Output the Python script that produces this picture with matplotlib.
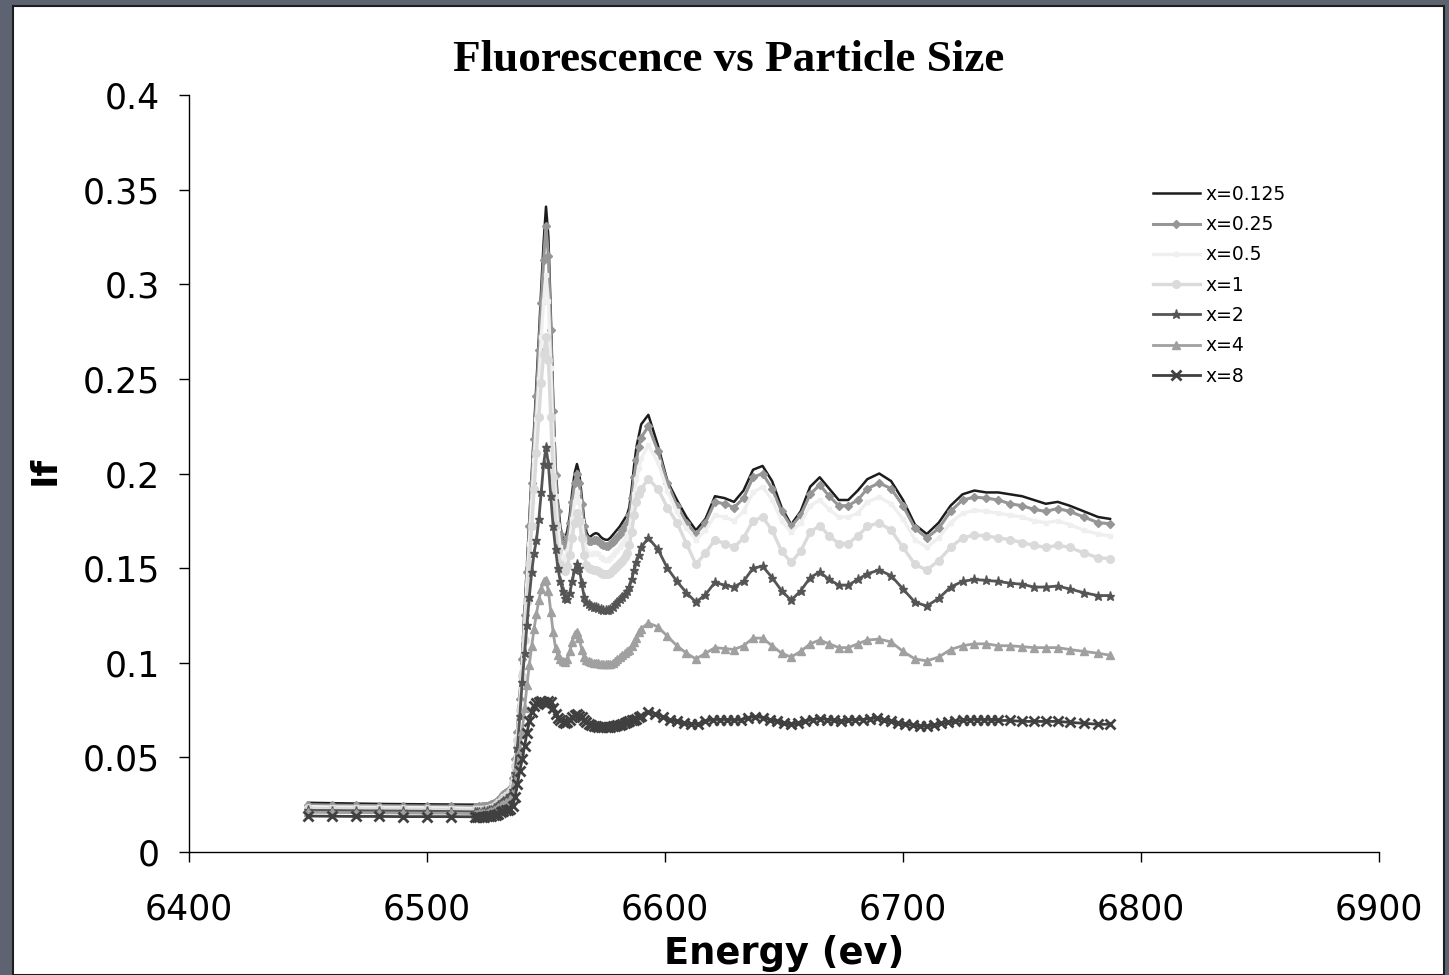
import matplotlib
matplotlib.use('Agg')
import matplotlib.pyplot as plt
from matplotlib.patches import Rectangle

# energy grids (eV): sparse pre-edge, dense edge scan, k-spaced post-edge
e_pre = [6450, 6460, 6470, 6480, 6490, 6500, 6510]
e_edge = [6520, 6521, 6522, 6523, 6524, 6525, 6526, 6527, 6528, 6529,
          6530, 6531, 6532, 6533, 6534, 6535, 6536, 6537, 6538, 6539,
          6540, 6541, 6542, 6543, 6544, 6545, 6546, 6547, 6548, 6549,
          6550, 6551, 6552, 6553, 6554, 6555, 6556, 6557, 6558, 6559,
          6560, 6561, 6562, 6563, 6564, 6565, 6566, 6567, 6568, 6569,
          6570, 6571, 6572, 6573, 6574, 6575, 6576, 6577, 6578, 6579,
          6580, 6581, 6582, 6583, 6584, 6585, 6586, 6587, 6588, 6589]
e_post = [6590, 6593, 6597, 6601, 6605, 6609, 6613, 6617, 6621, 6625,
          6629, 6633, 6637, 6641, 6645, 6649, 6653, 6657, 6661, 6665,
          6669, 6673, 6677, 6681, 6685, 6690, 6695, 6700, 6705, 6710,
          6715, 6720, 6725, 6730, 6735, 6740, 6745, 6750, 6755, 6760,
          6765, 6770, 6776, 6782, 6787]
# the x=8 sample was scanned finer up to 6740 eV
e_post_x8 = [6590, 6593, 6596, 6599, 6602, 6605, 6608, 6611, 6614, 6617,
             6620, 6623, 6626, 6629, 6632, 6635, 6638, 6641, 6644, 6647,
             6650, 6653, 6656, 6659, 6662, 6665, 6668, 6671, 6674, 6677,
             6680, 6683, 6686, 6689, 6692, 6695, 6698, 6701, 6704, 6707,
             6710, 6713, 6716, 6719, 6722, 6725, 6728, 6731, 6734, 6737,
             6740, 6745, 6750, 6755, 6760, 6765, 6770, 6776, 6782, 6787]

energy = e_pre + e_edge + e_post
energy_x8 = e_pre + e_edge + e_post_x8

if_0125 = [0.0260, 0.0258, 0.0256, 0.0254, 0.0253, 0.0252, 0.0251,
           0.0250, 0.0250, 0.0251, 0.0252, 0.0253, 0.0255, 0.0258, 0.0262, 0.0268, 0.0276,
           0.0287, 0.0300, 0.0315, 0.0325, 0.0330, 0.0345, 0.0400, 0.0500, 0.0650, 0.0830,
           0.1050, 0.1280, 0.1520, 0.1760, 0.2000, 0.2240, 0.2480, 0.2720, 0.2980, 0.3220,
           0.3410, 0.3250, 0.2850, 0.2400, 0.2050, 0.1850, 0.1720, 0.1660, 0.1650, 0.1700,
           0.1780, 0.1900, 0.2000, 0.2050, 0.2000, 0.1880, 0.1760, 0.1690, 0.1665, 0.1670,
           0.1680, 0.1685, 0.1680, 0.1665, 0.1655, 0.1650, 0.1650, 0.1660, 0.1675, 0.1690,
           0.1705, 0.1720, 0.1740, 0.1760, 0.1780, 0.1820, 0.1920, 0.2040, 0.2140, 0.2200,
           0.226, 0.231, 0.215, 0.196, 0.186, 0.177, 0.170, 0.176, 0.188, 0.187,
           0.185, 0.191, 0.202, 0.204, 0.196, 0.182, 0.173, 0.180, 0.193, 0.198,
           0.192, 0.186, 0.186, 0.191, 0.197, 0.200, 0.196, 0.186, 0.173, 0.168,
           0.174, 0.183, 0.189, 0.191, 0.190, 0.190, 0.189, 0.188, 0.186, 0.184,
           0.185, 0.183, 0.180, 0.177, 0.176]

if_025 = [0.0250, 0.0248, 0.0246, 0.0245, 0.0244, 0.0243, 0.0242,
          0.0240, 0.0240, 0.0241, 0.0242, 0.0243, 0.0245, 0.0248, 0.0252, 0.0258, 0.0266,
          0.0277, 0.0290, 0.0305, 0.0315, 0.0320, 0.0335, 0.0390, 0.0490, 0.0635, 0.0810,
          0.1020, 0.1250, 0.1480, 0.1720, 0.1950, 0.2180, 0.2410, 0.2650, 0.2900, 0.3130,
          0.3310, 0.3150, 0.2760, 0.2330, 0.1990, 0.1800, 0.1680, 0.1625, 0.1615, 0.1660,
          0.1740, 0.1850, 0.1950, 0.2000, 0.1950, 0.1840, 0.1720, 0.1660, 0.1645, 0.1645,
          0.1650, 0.1650, 0.1645, 0.1630, 0.1620, 0.1615, 0.1615, 0.1625, 0.1640, 0.1655,
          0.1665, 0.1680, 0.1700, 0.1720, 0.1740, 0.1780, 0.1870, 0.1980, 0.2070, 0.2140,
          0.219, 0.225, 0.212, 0.195, 0.183, 0.174, 0.168, 0.174, 0.185, 0.184,
          0.182, 0.187, 0.198, 0.200, 0.192, 0.180, 0.172, 0.178, 0.189, 0.194,
          0.188, 0.183, 0.183, 0.186, 0.192, 0.195, 0.192, 0.183, 0.171, 0.166,
          0.171, 0.180, 0.186, 0.1875, 0.187, 0.186, 0.184, 0.183, 0.181, 0.180,
          0.1815, 0.180, 0.177, 0.174, 0.1735]

if_05 = [0.0240, 0.0238, 0.0237, 0.0236, 0.0235, 0.0234, 0.0233,
         0.0230, 0.0230, 0.0231, 0.0232, 0.0233, 0.0235, 0.0238, 0.0242, 0.0248, 0.0256,
         0.0267, 0.0280, 0.0295, 0.0305, 0.0310, 0.0325, 0.0380, 0.0475, 0.0615, 0.0785,
         0.0980, 0.1190, 0.1410, 0.1630, 0.1850, 0.2070, 0.2290, 0.2500, 0.2720, 0.2910,
         0.3050, 0.2910, 0.2560, 0.2180, 0.1880, 0.1710, 0.1610, 0.1560, 0.1550, 0.1590,
         0.1660, 0.1760, 0.1850, 0.1900, 0.1855, 0.1750, 0.1650, 0.1590, 0.1575, 0.1575,
         0.1580, 0.1580, 0.1575, 0.1560, 0.1550, 0.1545, 0.1545, 0.1555, 0.1570, 0.1585,
         0.1595, 0.1610, 0.1630, 0.1650, 0.1670, 0.1710, 0.1790, 0.1890, 0.1970, 0.2030,
         0.208, 0.215, 0.206, 0.191, 0.180, 0.171, 0.165, 0.170, 0.178, 0.177,
         0.175, 0.180, 0.190, 0.193, 0.186, 0.175, 0.169, 0.174, 0.183, 0.186,
         0.181, 0.177, 0.177, 0.179, 0.185, 0.1875, 0.184, 0.176, 0.165, 0.161,
         0.166, 0.174, 0.179, 0.1805, 0.180, 0.179, 0.178, 0.177, 0.175, 0.174,
         0.175, 0.173, 0.170, 0.168, 0.167]

if_1 = [0.0230, 0.0229, 0.0228, 0.0227, 0.0226, 0.0225, 0.0224,
        0.0220, 0.0220, 0.0221, 0.0222, 0.0223, 0.0225, 0.0228, 0.0232, 0.0238, 0.0246,
        0.0257, 0.0270, 0.0285, 0.0295, 0.0300, 0.0315, 0.0365, 0.0455, 0.0590, 0.0750,
        0.0930, 0.1120, 0.1320, 0.1520, 0.1720, 0.1920, 0.2110, 0.2300, 0.2480, 0.2630,
        0.2720, 0.2600, 0.2300, 0.1980, 0.1730, 0.1590, 0.1520, 0.1490, 0.1485, 0.1510,
        0.1570, 0.1660, 0.1740, 0.1790, 0.1750, 0.1660, 0.1570, 0.1515, 0.1500, 0.1495,
        0.1490, 0.1490, 0.1485, 0.1475, 0.1470, 0.1470, 0.1470, 0.1475, 0.1490, 0.1500,
        0.1510, 0.1525, 0.1540, 0.1560, 0.1580, 0.1620, 0.1690, 0.1780, 0.1850, 0.1890,
        0.192, 0.197, 0.192, 0.182, 0.174, 0.163, 0.152, 0.158, 0.165, 0.163,
        0.161, 0.166, 0.175, 0.177, 0.170, 0.159, 0.153, 0.159, 0.169, 0.1725,
        0.167, 0.163, 0.163, 0.167, 0.172, 0.174, 0.170, 0.161, 0.152, 0.149,
        0.154, 0.161, 0.166, 0.1675, 0.167, 0.166, 0.165, 0.1635, 0.162, 0.161,
        0.162, 0.161, 0.158, 0.1555, 0.155]

if_2 = [0.0220, 0.0219, 0.0218, 0.0217, 0.0216, 0.0215, 0.0214,
        0.0212, 0.0212, 0.0213, 0.0214, 0.0215, 0.0217, 0.0220, 0.0224, 0.0230, 0.0238,
        0.0248, 0.0260, 0.0272, 0.0280, 0.0285, 0.0300, 0.0330, 0.0420, 0.0550, 0.0720,
        0.0900, 0.1050, 0.1200, 0.1350, 0.1480, 0.1580, 0.1650, 0.1760, 0.1900, 0.2050,
        0.2140, 0.2050, 0.1880, 0.1720, 0.1600, 0.1500, 0.1430, 0.1380, 0.1340, 0.1335,
        0.1370, 0.1430, 0.1490, 0.1520, 0.1500, 0.1420, 0.1350, 0.1320, 0.1310, 0.1300,
        0.1295, 0.1295, 0.1290, 0.1285, 0.1280, 0.1280, 0.1280, 0.1285, 0.1295, 0.1310,
        0.1320, 0.1335, 0.1350, 0.1365, 0.1380, 0.1400, 0.1440, 0.1490, 0.1530, 0.1570,
        0.161, 0.166, 0.160, 0.150, 0.143, 0.137, 0.132, 0.136, 0.1425, 0.141,
        0.140, 0.143, 0.150, 0.151, 0.145, 0.138, 0.133, 0.138, 0.145, 0.148,
        0.144, 0.141, 0.141, 0.144, 0.147, 0.149, 0.146, 0.139, 0.132, 0.130,
        0.134, 0.140, 0.143, 0.144, 0.1435, 0.143, 0.142, 0.1415, 0.140, 0.140,
        0.1405, 0.139, 0.137, 0.1355, 0.1355]

if_4 = [0.0210, 0.0209, 0.0208, 0.0207, 0.0206, 0.0205, 0.0205,
        0.0203, 0.0203, 0.0204, 0.0205, 0.0206, 0.0208, 0.0211, 0.0215, 0.0220, 0.0227,
        0.0236, 0.0246, 0.0256, 0.0262, 0.0266, 0.0280, 0.0310, 0.0370, 0.0450, 0.0540,
        0.0640, 0.0760, 0.0880, 0.0990, 0.1090, 0.1180, 0.1260, 0.1330, 0.1390, 0.1430,
        0.1435, 0.1380, 0.1270, 0.1160, 0.1080, 0.1040, 0.1020, 0.1010, 0.1005, 0.1020,
        0.1060, 0.1110, 0.1150, 0.1160, 0.1130, 0.1070, 0.1030, 0.1015, 0.1010, 0.1005,
        0.1000, 0.1000, 0.0998, 0.0995, 0.0993, 0.0993, 0.0993, 0.0995, 0.1000, 0.1010,
        0.1020, 0.1030, 0.1040, 0.1050, 0.1060, 0.1070, 0.1090, 0.1110, 0.1130, 0.1160,
        0.118, 0.121, 0.119, 0.114, 0.109, 0.105, 0.102, 0.105, 0.108, 0.1075,
        0.107, 0.109, 0.113, 0.113, 0.109, 0.105, 0.103, 0.106, 0.110, 0.112,
        0.110, 0.108, 0.108, 0.110, 0.112, 0.1125, 0.111, 0.106, 0.102, 0.101,
        0.103, 0.107, 0.109, 0.110, 0.110, 0.109, 0.109, 0.1085, 0.108, 0.108,
        0.108, 0.107, 0.106, 0.105, 0.104]

if_8 = [0.0190, 0.0189, 0.0188, 0.0188, 0.0187, 0.0187, 0.0187,
        0.0186, 0.0186, 0.0186, 0.0187, 0.0187, 0.0188, 0.0189, 0.0191, 0.0194, 0.0198,
        0.0203, 0.0210, 0.0216, 0.0220, 0.0222, 0.0228, 0.0245, 0.0290, 0.0360, 0.0430,
        0.0490, 0.0560, 0.0630, 0.0690, 0.0740, 0.0770, 0.0785, 0.0790, 0.0800, 0.0795,
        0.0780, 0.0800, 0.0790, 0.0760, 0.0730, 0.0710, 0.0695, 0.0685, 0.0680, 0.0685,
        0.0700, 0.0715, 0.0725, 0.0730, 0.0720, 0.0715, 0.0700, 0.0685, 0.0675, 0.0670,
        0.0665, 0.0665, 0.0663, 0.0660, 0.0660, 0.0660, 0.0660, 0.0662, 0.0665, 0.0668,
        0.0670, 0.0673, 0.0676, 0.0680, 0.0685, 0.0690, 0.0695, 0.0700, 0.0705, 0.0712,
        0.072, 0.074, 0.073, 0.0715, 0.070, 0.069, 0.068, 0.0675, 0.0675, 0.069,
        0.070, 0.070, 0.070, 0.0695, 0.070, 0.071, 0.0715, 0.071, 0.070, 0.069,
        0.068, 0.0675, 0.068, 0.069, 0.070, 0.0705, 0.070, 0.0695, 0.069, 0.0695,
        0.070, 0.070, 0.0705, 0.0707, 0.070, 0.069, 0.068, 0.0675, 0.067, 0.0665,
        0.0665, 0.067, 0.068, 0.0685, 0.069, 0.0695, 0.070, 0.070, 0.070, 0.070,
        0.0695, 0.0695, 0.069, 0.069, 0.069, 0.069, 0.0685, 0.068, 0.0675, 0.0675]

fig = plt.figure(figsize=(14.49, 9.75), dpi=100)
fig.patch.set_facecolor('#5e6371')
# white slide panel behind the chart
fig.patches.append(Rectangle((13/1449, 0), 1431/1449, 969/975, transform=fig.transFigure,
                             facecolor='white', edgecolor='#1e1e1e', lw=1.5, zorder=-1))

ax = fig.add_axes([189/1449, 123/975, 1190/1449, 757/975], zorder=1)
ax.set_facecolor('none')

ax.plot(energy, if_0125, color='#1c1c1c', lw=1.8, label='x=0.125')
ax.plot(energy, if_025, color='#969696', lw=2.2, marker='D', ms=4, label='x=0.25')
ax.plot(energy, if_05, color='#efefef', lw=2.4, marker='s', ms=3.5, label='x=0.5')
ax.plot(energy, if_1, color='#dadada', lw=2.4, marker='o', ms=5.5, label='x=1')
ax.plot(energy, if_2, color='#555555', lw=2.0, marker='*', ms=6.5, label='x=2')
ax.plot(energy, if_4, color='#a0a0a0', lw=2.0, marker='^', ms=5.5, label='x=4')
ax.plot(energy_x8, if_8, color='#404040', lw=2.0, marker='x', ms=7.5, mew=2.0, label='x=8')

ax.set_xlim(6400, 6900)
ax.set_ylim(0, 0.4)
ax.set_xticks([6400, 6500, 6600, 6700, 6800, 6900])
ax.set_yticks([0, 0.05, 0.1, 0.15, 0.2, 0.25, 0.3, 0.35, 0.4])
ax.set_yticklabels(['0', '0.05', '0.1', '0.15', '0.2', '0.25', '0.3', '0.35', '0.4'])
ax.spines['top'].set_visible(False)
ax.spines['right'].set_visible(False)
for s in ('left', 'bottom'):
    ax.spines[s].set_linewidth(1.0)
ax.tick_params(direction='out', length=7, width=1.0, labelsize=25)
ax.tick_params(axis='y', pad=14)
ax.tick_params(axis='x', pad=22)

fig.text(729/1449, 1 - 60/975, 'Fluorescence vs Particle Size', ha='center', va='center',
         family='Liberation Serif', weight='bold', fontsize=32.5)
fig.text(784/1449, 1 - 954/975, 'Energy (ev)', ha='center', va='center',
         weight='bold', fontsize=26.5)
fig.text(45/1449, 1 - 470/975, 'If', ha='center', va='center', rotation=90,
         weight='bold', fontsize=26)

ax.legend(loc='upper left', bbox_to_anchor=(1153/1449, 1 - 185/975),
          bbox_transform=fig.transFigure, frameon=False, fontsize=13.5,
          numpoints=1, handlelength=2.5, handletextpad=0.3, labelspacing=0.6,
          borderpad=0, borderaxespad=0)

fig.savefig('out.png', dpi=100, facecolor=fig.get_facecolor())
